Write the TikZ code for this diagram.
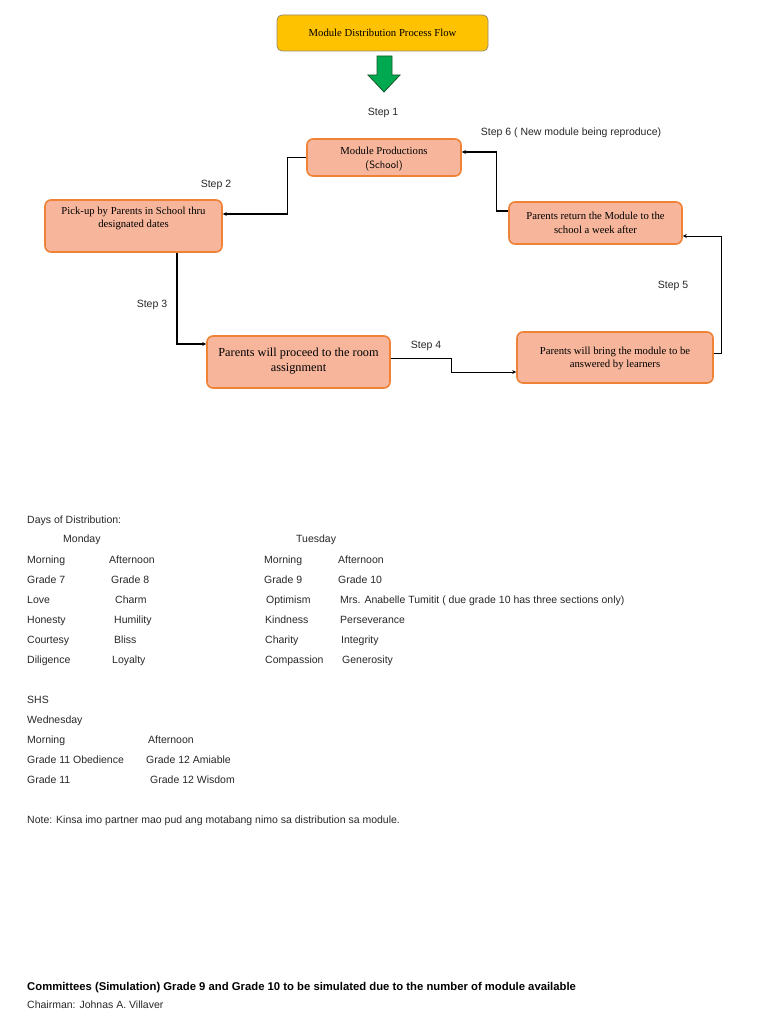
\documentclass[tikz,border=0pt]{standalone}
\usepackage{fontspec}
\setmainfont{Liberation Sans}
\newfontfamily\boxfont{Liberation Serif}
\usetikzlibrary{arrows.meta}
\definecolor{boxfill}{RGB}{247,182,156}
\definecolor{boxline}{RGB}{240,130,55}
\definecolor{titlefill}{RGB}{255,194,0}
\definecolor{titleline}{RGB}{150,140,110}
\definecolor{arrowgreen}{RGB}{0,168,80}
\definecolor{arrowdark}{RGB}{20,90,40}
\definecolor{txt}{RGB}{40,40,40}
\tikzset{
  stepbox/.style={draw=boxline, line width=1.6pt, fill=boxfill, rounded corners=6pt, inner sep=0pt},
  boxtext/.style={align=center, font=\boxfont\fontsize{10.7}{13.5}\selectfont, inner sep=0pt},
  conn/.style={draw=black, line width=1.2pt, -{Stealth[length=4pt,width=4pt]}},
  lbl/.style={font=\fontsize{10.5}{12}\selectfont, text=txt, inner sep=0pt},
  tx/.style={anchor=base west, font=\fontsize{10.5}{12}\selectfont, text=txt, inner sep=0pt},
}
\begin{document}
\begin{tikzpicture}[x=1pt,y=-1pt]
\useasboundingbox[fill=white] (0,0) rectangle (768,1024);
% title
\node[draw=titleline, line width=0.8pt, fill=titlefill, rounded corners=5pt, minimum width=211pt, minimum height=36pt, font=\boxfont\fontsize{10.7}{12}\selectfont, inner sep=0pt] (title) at (382.5,33) {Module Distribution Process Flow};
% green arrow
\filldraw[fill=arrowgreen, draw=arrowdark, line width=0.8pt] (377,56) -- (392,56) -- (392,75) -- (400,75) -- (384,92) -- (368,75) -- (377,75) -- cycle;
\node[lbl] (s1) at (383,113) {Step 1};
% boxes
\node[stepbox, minimum width=154pt, minimum height=37pt] (mp) at (384,157.5) {};
\node[boxtext] (mpt) at (384,159) {Module Productions\\{\sffamily\fontsize{10.5}{12}\selectfont(School)}};
\node[stepbox, minimum width=177pt, minimum height=52pt] (pu) at (133.5,226) {};
\node[boxtext, font=\boxfont\fontsize{10.7}{13}\selectfont] (put) at (133.5,218.5) {Pick-up by Parents in School thru\\designated dates};
\node[stepbox, minimum width=173pt, minimum height=42pt] (ret) at (595.5,223) {};
\node[boxtext] (rett) at (595.5,223) {Parents return the Module to the\\school a week after};
\node[stepbox, minimum width=183pt, minimum height=52pt] (pr) at (298.5,362) {};
\node[boxtext, font=\boxfont\fontsize{12.3}{15}\selectfont] (prt) at (298.5,361.5) {Parents will proceed to the room\\assignment};
\node[stepbox, minimum width=196pt, minimum height=51pt] (br) at (615,357.5) {};
\node[boxtext, font=\boxfont\fontsize{10.7}{13}\selectfont] (brt) at (615,358.5) {Parents will bring the module to be\\answered by learners};
% connectors
\draw[conn] (mp.west) -- ++(-19,0) |- ([yshift=12pt]pu.east);
\draw[conn] ([xshift=43.5pt]pu.south) |- ([yshift=18pt]pr.west);
\draw[conn, line width=0.9pt] ([yshift=4pt]pr.east) -- ++(61,0) |- ([yshift=-14.5pt]br.west);
\draw[conn, line width=0.9pt] ([yshift=4.5pt]br.east) -- ++(7.5,0) |- ([yshift=-13pt]ret.east);
\draw[conn] ([yshift=12pt]ret.west) -- ++(-12,0) |- ([yshift=5.5pt]mp.east);
% step labels
\node[lbl] (s2) at (216,185) {Step 2};
\node[lbl] (s3) at (152,305) {Step 3};
\node[lbl] (s4) at (426,346) {Step 4};
\node[lbl] (s5) at (673,286) {Step 5};
\node[lbl] (s6) at (571,133) {Step 6 ( New module being reproduce)};
% table text
\node[tx] (d0) at (27,523.5) {Days of Distribution:};
\node[tx] (d1) at (63,542.5) {Monday};
\node[tx] (d2) at (296,542.5) {Tuesday};
\node[tx] (m1) at (27,563.5) {Morning};
\node[tx] (m2) at (109,563.5) {Afternoon};
\node[tx] (m3) at (264,563.5) {Morning};
\node[tx] (m4) at (338,563.5) {Afternoon};
\node[tx] (g1) at (27,583.5) {Grade 7};
\node[tx] (g2) at (111,583.5) {Grade 8};
\node[tx] (g3) at (264,583.5) {Grade 9};
\node[tx] (g4) at (338,583.5) {Grade 10};
\node[tx] (r1a) at (27,603.5) {Love};
\node[tx] (r1b) at (115,603.5) {Charm};
\node[tx] (r1c) at (266,603.5) {Optimism};
\node[tx] (r1d) at (340,603.5) {Mrs. Anabelle Tumitit ( due grade 10 has three sections only)};
\node[tx] (r2a) at (27,623.5) {Honesty};
\node[tx] (r2b) at (114,623.5) {Humility};
\node[tx] (r2c) at (265,623.5) {Kindness};
\node[tx] (r2d) at (340,623.5) {Perseverance};
\node[tx] (r3a) at (27,643.5) {Courtesy};
\node[tx] (r3b) at (114,643.5) {Bliss};
\node[tx] (r3c) at (265,643.5) {Charity};
\node[tx] (r3d) at (341,643.5) {Integrity};
\node[tx] (r4a) at (27,663.5) {Diligence};
\node[tx] (r4b) at (112,663.5) {Loyalty};
\node[tx] (r4c) at (265,663.5) {Compassion};
\node[tx] (r4d) at (342,663.5) {Generosity};
\node[tx] (h1) at (27,703.5) {SHS};
\node[tx] (h2) at (27,723.5) {Wednesday};
\node[tx] (h3) at (27,743.5) {Morning};
\node[tx] (h4) at (148,743.5) {Afternoon};
\node[tx] (h5) at (27,763.5) {Grade 11 Obedience};
\node[tx] (h6) at (146,763.5) {Grade 12 Amiable};
\node[tx] (h7) at (27,783.5) {Grade 11};
\node[tx] (h8) at (150,783.5) {Grade 12 Wisdom};
\node[tx] (note) at (27,823.5) {Note: Kinsa imo partner mao pud ang motabang nimo sa distribution sa module.};
\node[tx, font=\bfseries\fontsize{11.3}{12}\selectfont, text=black] (com) at (27,990) {Committees (Simulation) Grade 9 and Grade 10 to be simulated due to the number of module available};
\node[tx] (ch) at (27,1008.5) {Chairman: Johnas A. Villaver};
\end{tikzpicture}
\end{document}
